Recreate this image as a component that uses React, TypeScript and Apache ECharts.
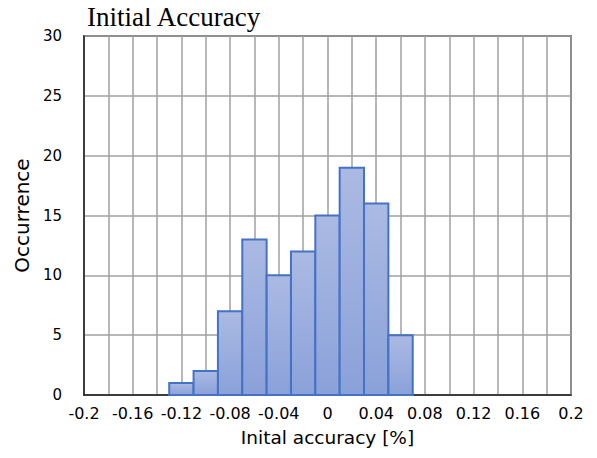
import React, { useEffect, useRef } from "react";
import * as echarts from "echarts";

const binCenters = [-0.12, -0.1, -0.08, -0.06, -0.04, -0.02, 0, 0.02, 0.04, 0.06];
const counts = [1, 2, 7, 13, 10, 12, 15, 19, 16, 5];
const binWidth = 0.02;
const titleText = "Initial Accuracy";
const xName = "Inital accuracy [%]";
const yName = "Occurrence";

export default function App() {
  const ref = useRef<HTMLDivElement>(null);
  useEffect(() => {
    if (!ref.current) return;
    const chart = echarts.init(ref.current, null, { renderer: "svg" });
    const data = binCenters.map((c, i) => [c, counts[i]]);
    const sans = "DejaVu Sans";
    chart.setOption({
      animation: false,
      title: {
        text: titleText,
        left: 87,
        top: 3,
        padding: 0,
        textStyle: { fontFamily: "Liberation Serif", fontSize: 27, fontWeight: "normal", color: "#000" },
      },
      grid: {
        left: 84,
        right: 26,
        top: 36,
        bottom: 63,
        show: true,
        borderColor: "#222",
        borderWidth: 1.5,
        backgroundColor: "transparent",
      },
      xAxis: {
        type: "value",
        min: -0.2,
        max: 0.2,
        interval: 0.02,
        name: xName,
        nameLocation: "middle",
        nameGap: 33,
        nameTextStyle: { fontFamily: sans, fontSize: 18.5, color: "#000" },
        axisLine: { show: true, onZero: false, lineStyle: { color: "#222", width: 1.5 } },
        axisTick: { show: false },
        axisLabel: {
          margin: 10,
          fontFamily: sans,
          fontSize: 16,
          color: "#000",
          showMinLabel: true,
          showMaxLabel: true,
          formatter: (v: number) => {
            const k = Math.round(v / 0.02);
            if (k % 2 !== 0) return "";
            const r = Math.round(v * 100) / 100;
            return r === 0 ? "0" : String(r);
          },
        },
        splitLine: { show: true, lineStyle: { color: "#a0a0a0", width: 1.5 } },
      },
      yAxis: {
        type: "value",
        min: 0,
        max: 30,
        interval: 5,
        name: yName,
        nameLocation: "middle",
        nameGap: 51,
        nameTextStyle: { fontFamily: sans, fontSize: 20, color: "#000" },
        axisLine: { show: true, onZero: false, lineStyle: { color: "#222", width: 1.5 } },
        axisTick: { show: false },
        axisLabel: { margin: 22, fontFamily: sans, fontSize: 15, color: "#000" },
        splitLine: { show: true, lineStyle: { color: "#a0a0a0", width: 1.5 } },
      },
      series: [
        {
          type: "custom",
          data,
          renderItem: (params: any, api: any) => {
            const x = api.value(0);
            const y = api.value(1);
            const p0 = api.coord([x - binWidth / 2, y]);
            const p1 = api.coord([x + binWidth / 2, 0]);
            return {
              type: "rect",
              shape: { x: p0[0], y: p0[1], width: p1[0] - p0[0], height: p1[1] - p0[1] },
              style: {
                fill: new echarts.graphic.LinearGradient(0, 0, 0, 1, [
                  { offset: 0, color: "#abbae3" },
                  { offset: 1, color: "#8aa1d9" },
                ]),
                stroke: "#4472c4",
                lineWidth: 2,
              },
            };
          },
        },
      ],
    });
    return () => chart.dispose();
  }, []);
  return <div ref={ref} style={{ width: 597, height: 458, margin: -8 }} />;
}
